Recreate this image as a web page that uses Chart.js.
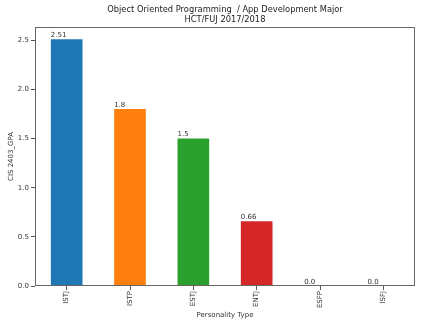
<!DOCTYPE html>
<html>
<head>
<meta charset="utf-8">
<script src="https://cdn.jsdelivr.net/npm/chart.js@4/dist/chart.umd.min.js"></script>
<style>
  html, body { margin: 0; background: #fff; }
  #wrap { width: 430px; height: 324px; }
</style>
</head>
<body>
<div id="wrap"><canvas id="chart"></canvas></div>
<script>
var types = ["ISTJ", "ISTP", "ESTJ", "ENTJ", "ESFP", "ISFJ"];
var gpa = [2.51, 1.8, 1.5, 0.66, 0.0, 0.0];
var gpaText = ["2.51", "1.8", "1.5", "0.66", "0.0", "0.0"];
var barColors = ["#1f77b4", "#ff7f0e", "#2ca02c", "#d62728", "#9467bd", "#8c564b"];
var yMax = 2.6355;
var yStep = 0.5;

Chart.defaults.font.family = "'DejaVu Sans', sans-serif";
Chart.defaults.color = "#333";

// axes frame + value labels written just above each bar
var framePlugin = {
  id: "frame",
  afterDatasetsDraw: function (chart) {
    var ctx = chart.ctx, a = chart.chartArea;
    ctx.save();
    ctx.strokeStyle = "#666";
    ctx.lineWidth = 1;
    ctx.strokeRect(a.left + 0.5, a.top + 0.5, a.right - a.left - 1, a.bottom - a.top - 1);
    ctx.fillStyle = "#333";
    ctx.font = "7px 'DejaVu Sans'";
    ctx.textAlign = "left";
    ctx.textBaseline = "bottom";
    chart.getDatasetMeta(0).data.forEach(function (bar, i) {
      ctx.fillText(gpaText[i], bar.x - bar.width / 2, bar.y - 0.5);
    });
    ctx.restore();
  },
};

new Chart(document.getElementById("chart"), {
  type: "bar",
  data: {
    labels: types,
    datasets: [{
      data: gpa,
      backgroundColor: barColors,
      categoryPercentage: 0.5,
      barPercentage: 1,
    }],
  },
  options: {
    responsive: true,
    maintainAspectRatio: false,
    animation: false,
    layout: { padding: { left: 0, right: 15, top: 0, bottom: 0 } },
    scales: {
      x: {
        offset: true,
        border: { display: false },
        grid: { drawOnChartArea: false, drawTicks: true, tickLength: 4, color: "#555", offset: false },
        ticks: { minRotation: 90, maxRotation: 90, padding: 1, font: { size: 7 } },
        title: { display: true, text: "Personality Type", font: { size: 7 }, padding: { top: 0, bottom: 5 } },
        afterFit: function (s) { s.height = 38; },
      },
      y: {
        min: 0,
        max: yMax,
        border: { display: false },
        grid: { drawOnChartArea: false, drawTicks: true, tickLength: 4, color: "#555" },
        ticks: {
          stepSize: yStep,
          includeBounds: false,
          padding: 2,
          font: { size: 7 },
          callback: function (v) { return Number(v).toFixed(1); },
        },
        title: { display: true, text: "CIS 2403_GPA", font: { size: 7 }, padding: { top: 7, bottom: 0 } },
        afterFit: function (s) { s.width = 35; },
      },
    },
    plugins: {
      legend: { display: false },
      tooltip: { enabled: false },
      title: {
        display: true,
        fullSize: false,
        text: ["Object Oriented Programming  / App Development Major", "HCT/FUJ 2017/2018"],
        color: "#222",
        font: { size: 8.3, weight: "normal", lineHeight: 1.22 },
        padding: { top: 5, bottom: 1.75 },
      },
    },
  },
  plugins: [framePlugin],
});
</script>
</body>
</html>
